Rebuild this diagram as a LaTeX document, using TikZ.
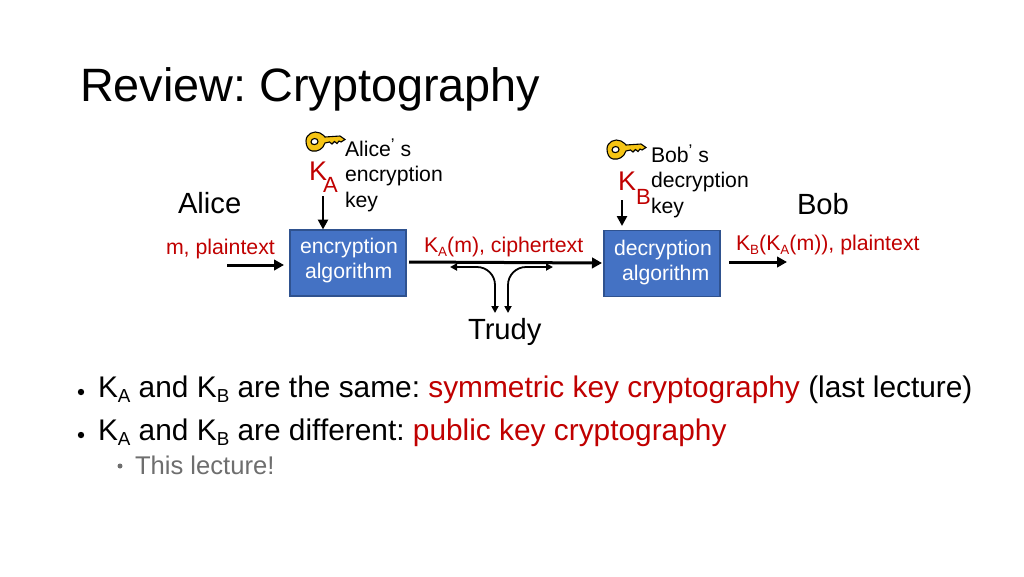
\documentclass[tikz,border=0pt]{standalone}
\usepackage{fontspec}
\usepackage{graphicx}
\setmainfont{Liberation Sans}
\usetikzlibrary{arrows.meta}
\definecolor{redtxt}{RGB}{192,0,0}
\definecolor{boxfill}{RGB}{68,114,196}
\definecolor{boxline}{RGB}{47,82,143}
\definecolor{greytxt}{RGB}{110,110,110}
\definecolor{keygold}{RGB}{245,196,20}
\newcommand\lsub[1]{\raisebox{-.2em}{\scalebox{.63}{#1}}}
\newcommand\fsz[1]{\fontsize{#1}{#1}\selectfont\frenchspacing}
\tikzset{
  x=1pt,y=-1pt,
  txt/.style={anchor=base west,inner sep=0pt,outer sep=0pt},
  redlabel/.style={txt,text=redtxt,font=\fsz{21.3}},
  bigname/.style={txt,font=\fsz{29.2}},
  keytxt/.style={txt,font=\fsz{21.2},align=left},
  bullet/.style={txt,font=\fsz{29.85}},
  algbox/.style={draw=boxline,fill=boxfill,line width=1.2pt,minimum width=116pt,minimum height=66pt,inner sep=0pt},
  boxtxt/.style={txt,text=white,font=\fsz{21.2}},
  thick arrow/.style={line width=3pt,-{Triangle[length=10pt,width=10.5pt]}},
  mid arrow/.style={line width=2.6pt,-{Triangle[length=10pt,width=10pt]}},
  thin arrow/.style={line width=1.8pt,{Triangle[length=7pt,width=7pt]}-{Triangle[length=7pt,width=7pt]},rounded corners=18pt},
  pics/goldkey/.style={code={
    \draw[fill=keygold,draw=black,line width=1.1pt,even odd rule]
      (0,0) .. controls (0,-7) and (8,-11) .. (14,-8) .. controls (17,-6.500) and (18,-5) .. (19,-4)
      -- (34,-5) -- (39,-1.500) -- (35,1) -- (33,0) -- (31,2.500) -- (28.500,0.500) -- (26,3) -- (23.500,1) -- (19,2)
      .. controls (17,8) and (12,11) .. (6,10) .. controls (2,9) and (0,5) .. (0,0) -- cycle
      (5,1) .. controls (5,-3.500) and (12,-3.500) .. (12,0.500) .. controls (12,4.500) and (5,4.500) .. (5,1) -- cycle;
  }}
}
\begin{document}
\begin{tikzpicture}
\useasboundingbox (0,0) rectangle (1024,576);
\fill[white] (0,0) rectangle (1024,576);
\node[txt,font=\fsz{46.8}] (title) at (80,101) {Review: Cryptography};

\node[algbox] (enc) at (348,263) {};
\node[boxtxt] (enct) at (300,253) {encryption};
\node[boxtxt] (enct2) at (305,278) {algorithm};
\node[algbox] (dec) at (662,263.5) {};
\node[boxtxt] (dect) at (614,255) {decryption};
\node[boxtxt] (dect2) at (622,280) {algorithm};

\node[bigname] (alice) at (178,213) {Alice};
\node[bigname] (bob) at (797,214) {Bob};
\node[redlabel] (ptl) at (166,254) {m, plaintext};
\node[redlabel] (ctl) at (424,252) {K\lsub{A}(m), ciphertext};
\node[redlabel] (ptr) at (736,250) {K\lsub{B}(K\lsub{A}(m)), plaintext};

\pic at (306,141) {goldkey};
\pic at (607,149) {goldkey};
\node[txt,text=redtxt,font=\fsz{27}] (ka) at (309,180) {K};
\node[txt,text=redtxt,font=\fsz{22}] (kasub) at (323,192) {A};
\node[txt,text=redtxt,font=\fsz{27}] (kb) at (618,190) {K};
\node[txt,text=redtxt,font=\fsz{22}] (kbsub) at (636,204) {B};
\node[keytxt] (a1) at (345,156) {Alice\raisebox{.28em}{\scalebox{.8}{’}} s};
\node[keytxt] (a2) at (345,181.500) {encryption};
\node[keytxt] (a3) at (345,207) {key};
\node[keytxt] (b1) at (651,162) {Bob\raisebox{.28em}{\scalebox{.8}{’}} s};
\node[keytxt] (b2) at (651,187) {decryption};
\node[keytxt] (b3) at (651,213) {key};

\coordinate (ks) at (323,196);
\coordinate (ke) at (323,229.500);
\draw[mid arrow] (ks) -- (ke);
\coordinate (ks2) at (622,200);
\coordinate (ke2) at (622,226);
\draw[mid arrow] (ks2) -- (ke2);
\coordinate (pl) at (227,265);
\coordinate (pr) at (284,265);
\draw[thick arrow] (pl) -- (pr);
\coordinate (cl) at (409,262);
\coordinate (cr) at (602,263);
\draw[thick arrow] (cl) -- (cr);
\coordinate (bl) at (729,262);
\coordinate (br) at (787,262);
\draw[thick arrow] (bl) -- (br);

\coordinate (t1a) at (450,267);
\coordinate (t1b) at (495,267);
\coordinate (t1c) at (495,313);
\coordinate (t2a) at (553,267);
\coordinate (t2b) at (508,267);
\coordinate (t2c) at (508,313);
\draw[thin arrow] (t1a) -- (t1b) -- (t1c);
\draw[thin arrow] (t2a) -- (t2b) -- (t2c);
\node[bigname] (trudy) at (468,339) {Trudy};

\fill[black] (81,392) circle (3.2pt);
\node[bullet] (l1) at (98,397) {K\lsub{A} and K\lsub{B} are the same: \textcolor{redtxt}{symmetric key cryptography} (last lecture)};
\fill[black] (81,435) circle (3.2pt);
\node[bullet] (l2) at (98,440) {K\lsub{A} and K\lsub{B} are different: \textcolor{redtxt}{public key cryptography}};
\fill[greytxt] (120,466) circle (2.5pt);
\node[txt,text=greytxt,font=\fsz{25.6}] (l3) at (135,474) {This lecture!};
\end{tikzpicture}
\end{document}
